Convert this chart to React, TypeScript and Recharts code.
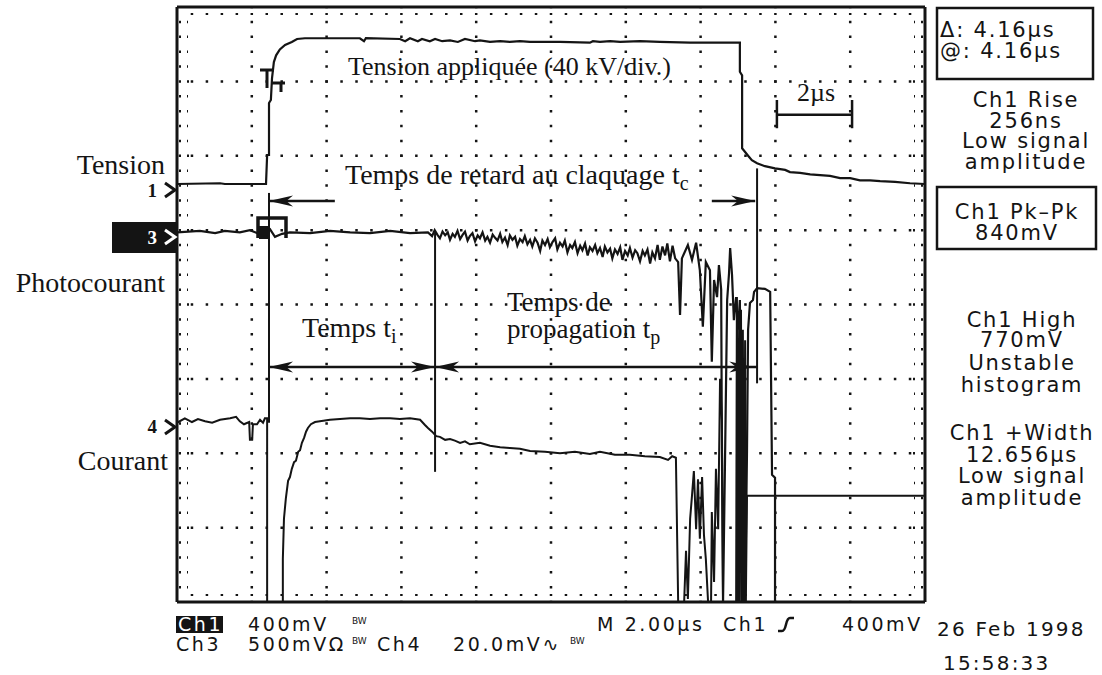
import React from "react";
import { LineChart, Line, XAxis, YAxis, ReferenceLine, ReferenceDot } from "recharts";

const CHART_W = 1102;
const CHART_H = 675;
// plot area: 177..925 horizontally, 7..602 vertically
const MARGIN = { top: 7, right: 177, bottom: 73, left: 177 };

// screen: 10 div x 2 µs, 8 div vertically centred on 0
const timeMajors = [2, 4, 6, 8, 10, 12, 14, 16, 18];
const levelMajors = [-3, -2, -1, 0, 1, 2, 3];

// Ch1 – tension appliquée (div)
const tensionT = [0, 1.15, 1.28, 2.38, 2.41, 2.46, 2.46, 2.51, 2.54, 2.59, 2.65, 2.75, 2.89, 3.07, 3.21, 3.42, 4.89, 5.0, 5.05, 5.96, 6.1, 6.23, 6.44, 6.55, 6.76, 6.9, 7.09, 7.3, 7.51, 7.7, 7.97, 8.1, 8.37, 8.64, 8.9, 9.17, 9.44, 10.24, 11.04, 11.12, 11.31, 11.58, 11.85, 12.38, 12.91, 13.72, 15.05, 15.05, 15.11, 15.11, 15.19, 15.27, 15.37, 15.51, 15.72, 15.99, 16.26, 16.39, 16.66, 16.93, 17.46, 17.73, 18.0, 18.26, 18.53, 18.8, 19.2, 19.6, 20.0];
const tensionV = [1.62, 1.63, 1.62, 1.62, 2.01, 2.01, 2.71, 2.75, 3.04, 3.26, 3.35, 3.43, 3.49, 3.53, 3.57, 3.58, 3.58, 3.54, 3.58, 3.57, 3.54, 3.58, 3.54, 3.57, 3.54, 3.57, 3.54, 3.55, 3.53, 3.57, 3.54, 3.55, 3.53, 3.54, 3.53, 3.54, 3.53, 3.53, 3.52, 3.54, 3.53, 3.54, 3.53, 3.54, 3.53, 3.52, 3.52, 3.13, 3.08, 2.1, 2.05, 2.0, 1.94, 1.9, 1.86, 1.83, 1.81, 1.78, 1.77, 1.75, 1.73, 1.7, 1.7, 1.67, 1.67, 1.66, 1.65, 1.63, 1.62];

// Ch3 – photocourant (div)
const photoT = [
  0, 0.61, 1.02, 1.28, 1.68, 1.95, 2.14, 2.27, 2.49, 2.62, 2.81, 3.02, 3.56, 4.09, 4.63, 5.16, 5.7, 6.23, 6.71,
  6.82, 6.89, 6.96, 7.03, 7.1, 7.17, 7.24, 7.3, 7.37, 7.43,
  7.5, 7.57, 7.64, 7.7, 7.77, 7.83, 7.9, 7.97, 8.04, 8.1,
  8.17, 8.24, 8.3, 8.37, 8.44, 8.5, 8.57, 8.64, 8.7, 8.77,
  8.84, 8.9, 8.97, 9.04, 9.1, 9.17, 9.24, 9.3, 9.37, 9.44,
  9.5, 9.57, 9.64, 9.71, 9.77, 9.84, 9.91, 9.97, 10.04, 10.11,
  10.17, 10.24, 10.31, 10.37, 10.44, 10.51, 10.57, 10.64, 10.71, 10.78,
  10.84, 10.91, 10.98, 11.04, 11.11, 11.18, 11.24, 11.31, 11.38, 11.44,
  11.51, 11.58, 11.64, 11.71, 11.78, 11.85, 11.91, 11.98, 12.05, 12.11,
  12.18, 12.25, 12.31, 12.38, 12.45, 12.51, 12.58, 12.65, 12.71, 12.78,
  12.85, 12.91, 12.98, 13.05, 13.11, 13.18, 13.25, 13.32, 13.4,
  13.45, 13.5, 13.66, 13.77, 13.88, 13.98, 14.06, 14.14, 14.25, 14.3,
  14.36, 14.44, 14.49, 14.55, 14.57, 14.6, 14.65, 14.71, 14.76, 14.79,
  14.84, 14.89, 14.95, 15.0, 15.05, 15.11, 15.19, 15.24, 15.27, 15.32,
  15.4, 15.43, 15.51, 15.72, 15.86, 15.91, 15.99, 15.99,
];
const photoV = [
  0.97, 0.99, 0.96, 0.99, 0.97, 1.0, 0.96, 0.92, 1.01, 0.91, 0.95, 0.97, 0.96, 0.99, 0.97, 0.96, 0.99, 0.96, 0.97,
  0.92, 1.0, 0.94, 0.89, 0.98, 0.93, 0.97, 0.87, 0.95, 0.91,
  0.99, 0.88, 0.94, 0.98, 0.86, 0.92, 0.96, 0.85, 0.93, 0.89,
  0.97, 0.86, 0.91, 0.83, 0.94, 0.9, 0.86, 0.95, 0.84, 0.9,
  0.8, 0.93, 0.87, 0.91, 0.79, 0.88, 0.84, 0.92, 0.81, 0.87,
  0.78, 0.89, 0.83, 0.72, 0.86, 0.8, 0.88, 0.77, 0.84, 0.89,
  0.74, 0.83, 0.78, 0.86, 0.7, 0.8, 0.76, 0.84, 0.69, 0.79,
  0.73, 0.82, 0.66, 0.77, 0.72, 0.8, 0.69, 0.76, 0.64, 0.78,
  0.7, 0.75, 0.62, 0.74, 0.68, 0.77, 0.6, 0.72, 0.66, 0.76,
  0.63, 0.73, 0.69, 0.58, 0.72, 0.66, 0.74, 0.55, 0.7, 0.62,
  0.8, 0.6, 0.78, 0.66, 0.82, 0.58, 0.79, 0.62, 0.57,
  -0.14, 0.62, 0.8, 0.6, 0.83, 0.46, -0.3, 0.57, 0.46, -0.77,
  0.33, 0.1, 0.53, 0.2, -1.96, -4, -2.2, 0.06, 0.42, 0.76,
  0.4, -0.21, 0.1, -0.34, 0.06, -4, -4, -2.0, -0.34, 0.02,
  0.06, 0.17, 0.22, 0.21, 0.17, -2.29, -2.33, -4,
];

// Ch4 – courant (div)
const courantT = [0, 0.21, 0.4, 0.56, 0.75, 0.94, 1.15, 1.42, 1.58, 1.68, 1.79, 1.93, 1.95, 2.01, 2.03, 2.14, 2.22, 2.3, 2.35, 2.41, 2.41, 2.83, 2.83, 2.86, 2.91, 2.97, 3.02, 3.07, 3.13, 3.18, 3.24, 3.29, 3.34, 3.4, 3.45, 3.5, 3.58, 3.69, 3.82, 4.09, 4.36, 4.63, 4.89, 5.16, 5.43, 5.7, 5.96, 6.23, 6.5, 6.63, 6.71, 6.82, 6.93, 7.03, 7.17, 7.3, 7.43, 7.57, 7.7, 7.83, 8.1, 8.37, 8.64, 8.9, 9.17, 9.44, 9.84, 10.24, 10.64, 11.04, 11.31, 11.71, 12.11, 12.51, 12.91, 13.13, 13.24, 13.34, 13.4, 13.56, 13.61, 13.66, 13.72, 13.77, 13.82, 13.88, 13.93, 13.98, 14.04, 14.09, 14.14, 14.2, 14.28, 14.3, 14.36, 14.41, 14.47, 14.52, 14.57, 14.6, 14.79, 14.95, 14.97, 15.0, 15.03, 15.05, 15.08, 15.11, 15.13, 15.16, 15.19, 15.21, 15.24, 20];
const courantV = [-1.59, -1.53, -1.58, -1.54, -1.57, -1.59, -1.55, -1.53, -1.51, -1.57, -1.61, -1.58, -1.82, -1.82, -1.61, -1.61, -1.55, -1.59, -1.53, -1.53, -4, -4, -3.42, -2.88, -2.61, -2.37, -2.32, -2.21, -2.12, -2.1, -1.98, -1.96, -1.86, -1.79, -1.71, -1.66, -1.61, -1.58, -1.57, -1.55, -1.54, -1.53, -1.53, -1.54, -1.53, -1.53, -1.54, -1.53, -1.55, -1.62, -1.66, -1.71, -1.77, -1.78, -1.82, -1.81, -1.83, -1.86, -1.84, -1.88, -1.86, -1.9, -1.92, -1.93, -1.94, -1.97, -1.98, -2.0, -1.98, -2.01, -1.98, -2.02, -2.02, -2.04, -2.05, -2.09, -2.04, -2.06, -4, -4, -3.31, -3.96, -2.88, -2.57, -2.24, -3.02, -2.35, -3.15, -2.32, -3.1, -3.42, -4, -4, -2.79, -3.73, -2.21, -3.02, -1.0, -1.56, -4, -4, -4, 0.1, -4, -0.21, -4, -0.07, -4, -0.34, -4, -0.48, -4, -2.57, -2.57];

// cursors and measurement arrows (µs, div)
const cursorT = [2.46, 6.9, 15.51];
const cursorFrom = [1.5, 0.97, 1.83];
const cursorTo = [-1.59, -2.25, -1.06];
const delayArrowV = 1.39;
const spanArrowV = -0.84;
const scaleBar = { from: 16.04, to: 18.05, v: 2.55 };

const zip = (ts: number[], vs: number[]) => ts.map((t, i) => ({ t, v: vs[i] }));
const tensionData = zip(tensionT, tensionV);
const photoData = zip(photoT, photoV);
const courantData = zip(courantT, courantV);

const INK = "#141414";
const serif = '"Liberation Serif", "Times New Roman", serif';
const sans = '"DejaVu Sans", Verdana, sans-serif';

// edge graticule ticks every 1/5 division
const xMinor = Array.from({ length: 49 }, (_, i) => ({ t: (i + 1) * 0.4, major: (i + 1) % 5 === 0 }));
const yMinor = Array.from({ length: 39 }, (_, i) => ({ v: -4 + (i + 1) * 0.2, major: (i + 1) % 5 === 0 }));
const PX_T = 20 / 748;
const PX_V = 8 / 595;

const arrowHead = (dir: number) => (p: any) => {
  const { cx, cy } = p;
  const L = 24;
  const h = 5.5;
  const pts = `${cx},${cy} ${cx - dir * L},${cy - h} ${cx - dir * L * 0.72},${cy} ${cx - dir * L},${cy + h}`;
  return <polygon points={pts} fill={INK} />;
};

const seg = (a: [number, number], b: [number, number], key: string, extra: any = {}) => (
  <ReferenceLine
    key={key}
    segment={[{ x: a[0], y: a[1] }, { x: b[0], y: b[1] }]}
    stroke={INK}
    strokeWidth={2.5}
    ifOverflow="visible"
    {...extra}
  />
);

const Overlay = () => (
  <svg width={CHART_W} height={CHART_H} style={{ position: "absolute", left: 0, top: 0, pointerEvents: "none" }}>
    <g fontFamily={serif} fontSize={28} fill={INK}>
      <text x={165} y={174} textAnchor="end">Tension</text>
      <text x={165} y={292} textAnchor="end">Photocourant</text>
      <text x={168} y={470} textAnchor="end">Courant</text>
      <text x={348} y={75} fontSize={26}>Tension appliquée (40 kV/div.)</text>
      <text x={345} y={184}>Temps de retard au claquage t<tspan fontSize={20} dy={6}>c</tspan></text>
      <text x={797} y={101} fontSize={26}>2µs</text>
      <text x={302} y={337}>Temps t<tspan fontSize={20} dy={6}>i</tspan></text>
      <text x={507} y={311} fontSize={27}>Temps de</text>
      <text x={507} y={338} fontSize={27}>propagation t<tspan fontSize={20} dy={6}>p</tspan></text>
    </g>

    {/* channel ground markers */}
    <g fontFamily={serif} fontWeight="bold" fontSize={19}>
      <text x={157} y={197} textAnchor="end" fill={INK}>1</text>
      <path d="M165 183 L175 190 L165 197" stroke={INK} strokeWidth={3} fill="none" />
      <rect x={112} y={222} width={64} height={31} fill={INK} />
      <text x={157} y={244} textAnchor="end" fill="#fff">3</text>
      <path d="M165 230 L175 237 L165 244" stroke="#fff" strokeWidth={3} fill="none" />
      <text x={157} y={433} textAnchor="end" fill={INK}>4</text>
      <path d="M165 420 L175 427 L165 434" stroke={INK} strokeWidth={3} fill="none" />
    </g>

    {/* rise-time and trigger window markers */}
    <path d="M260 70 H274 M267 70 V88 M271 83 H285 M281 83 V92" stroke={INK} strokeWidth={3} fill="none" />
    <path d="M258 238 V218 H286 V238" stroke={INK} strokeWidth={3.5} fill="none" />
    <rect x={259} y={226} width={9} height={13} fill={INK} />

    {/* measurement readouts */}
    <g fontFamily={sans} fontSize={21} fill={INK} letterSpacing={1.8}>
      <rect x={937} y={8} width={156} height={71} fill="none" stroke={INK} strokeWidth={2.5} />
      <text x={940} y={37}>Δ: 4.16µs</text>
      <text x={940} y={58}>@: 4.16µs</text>
      <g textAnchor="middle">
        <text x={1026} y={107}>Ch1 Rise</text>
        <text x={1026} y={128}>256ns</text>
        <text x={1026} y={148}>Low signal</text>
        <text x={1026} y={169}>amplitude</text>
        <text x={1017} y={219}>Ch1 Pk–Pk</text>
        <text x={1017} y={240}>840mV</text>
        <text x={1022} y={327}>Ch1 High</text>
        <text x={1022} y={347}>770mV</text>
        <text x={1022} y={370}>Unstable</text>
        <text x={1022} y={392}>histogram</text>
        <text x={1022} y={440}>Ch1 +Width</text>
        <text x={1022} y={462}>12.656µs</text>
        <text x={1022} y={483}>Low signal</text>
        <text x={1022} y={505}>amplitude</text>
      </g>
      <rect x={937} y={187} width={159} height={62} fill="none" stroke={INK} strokeWidth={2.5} />
    </g>

    {/* channel settings strip */}
    <g fontFamily={sans} fontSize={19} fill={INK} letterSpacing={2.6}>
      <rect x={176} y={616} width={47} height={17} fill={INK} />
      <text x={178} y={631} fill="#fff">Ch1</text>
      <text x={248} y={631}>400mV</text>
      <text x={352} y={624} fontSize={9} letterSpacing={0}>BW</text>
      <text x={176} y={651}>Ch3</text>
      <text x={248} y={651}>500mVΩ</text>
      <text x={352} y={644} fontSize={9} letterSpacing={0}>BW</text>
      <text x={377} y={651}>Ch4</text>
      <text x={453} y={651}>20.0mV∿</text>
      <text x={570} y={644} fontSize={9} letterSpacing={0}>BW</text>
      <text x={597} y={631}>M 2.00µs</text>
      <text x={723} y={631}>Ch1</text>
      <path d="M778 631 H782 C787 631 785 618 790 618 H794" stroke={INK} strokeWidth={2.5} fill="none" />
      <text x={842} y={631}>400mV</text>
      <text x={937} y={636} fontSize={20} letterSpacing={2.2}>26 Feb 1998</text>
      <text x={943} y={670} fontSize={20} letterSpacing={2.2}>15:58:33</text>
    </g>
  </svg>
);

export default function App() {
  return (
    <div style={{ position: "absolute", left: 0, top: 0, width: CHART_W, height: CHART_H, background: "#fff" }}>
      <LineChart width={CHART_W} height={CHART_H} margin={MARGIN}>
        <XAxis dataKey="t" type="number" domain={[0, 20]} hide allowDataOverflow />
        <YAxis type="number" domain={[-4, 4]} hide allowDataOverflow />

        {/* dotted graticule */}
        {timeMajors.map((t) => (
          <ReferenceLine key={`gx${t}`} x={t} stroke={INK} strokeWidth={2.5} strokeDasharray="2.5 12.375" strokeDashoffset={1.25} />
        ))}
        {levelMajors.map((v) => (
          <ReferenceLine key={`gy${v}`} y={v} stroke={INK} strokeWidth={2.5} strokeDasharray="2.5 12.46" strokeDashoffset={1.25} />
        ))}
        {xMinor.map(({ t, major }) => {
          const len = (major ? 15 : 9) * PX_V;
          return [
            seg([t, -4], [t, -4 + len], `bt${t}`, { strokeDasharray: "0 6 2 4" }),
            seg([t, 4], [t, 4 - len], `tt${t}`, { strokeDasharray: "0 6 2 4" }),
          ];
        })}
        {yMinor.map(({ v, major }) => {
          const len = (major ? 17 : 11) * PX_T;
          return [
            seg([0, v], [len, v], `lt${v}`, { strokeDasharray: "0 2 2 4" }),
            seg([20, v], [20 - len, v], `rt${v}`, { strokeDasharray: "0 2 2 4" }),
          ];
        })}
        {seg([0, -4], [20, -4], "fb", { strokeWidth: 3 })}
        {seg([0, 4], [20, 4], "ft", { strokeWidth: 3 })}
        {seg([0, -4], [0, 4], "fl", { strokeWidth: 3 })}
        {seg([20, -4], [20, 4], "fr", { strokeWidth: 3 })}

        <Line data={tensionData} dataKey="v" type="linear" dot={false} stroke={INK} strokeWidth={2.2} isAnimationActive={false} />
        <Line data={photoData} dataKey="v" type="linear" dot={false} stroke={INK} strokeWidth={2.2} isAnimationActive={false} />
        <Line data={courantData} dataKey="v" type="linear" dot={false} stroke={INK} strokeWidth={2} isAnimationActive={false} />

        {/* cursors */}
        {cursorT.map((t, i) => seg([t, cursorFrom[i]], [t, cursorTo[i]], `cur${i}`, { strokeWidth: 2 }))}

        {/* t_c arrows */}
        {seg([cursorT[0], delayArrowV], [4.22, delayArrowV], "tcL")}
        {seg([14.3, delayArrowV], [cursorT[2] - 0.05, delayArrowV], "tcR")}
        <ReferenceDot x={cursorT[0]} y={delayArrowV} shape={arrowHead(-1)} ifOverflow="visible" />
        <ReferenceDot x={cursorT[2] - 0.05} y={delayArrowV} shape={arrowHead(1)} ifOverflow="visible" />

        {/* t_i and t_p arrows */}
        {seg([cursorT[0], spanArrowV], [cursorT[2], spanArrowV], "tip")}
        <ReferenceDot x={cursorT[0]} y={spanArrowV} shape={arrowHead(-1)} ifOverflow="visible" />
        <ReferenceDot x={cursorT[1]} y={spanArrowV} shape={arrowHead(1)} ifOverflow="visible" />
        <ReferenceDot x={cursorT[1]} y={spanArrowV} shape={arrowHead(-1)} ifOverflow="visible" />
        <ReferenceDot x={cursorT[2] - 0.1} y={spanArrowV} shape={arrowHead(1)} ifOverflow="visible" />

        {/* 2 µs scale bar */}
        {seg([scaleBar.from, scaleBar.v], [scaleBar.to, scaleBar.v], "sb")}
        {seg([scaleBar.from, scaleBar.v + 0.2], [scaleBar.from, scaleBar.v - 0.18], "sbl")}
        {seg([scaleBar.to, scaleBar.v + 0.2], [scaleBar.to, scaleBar.v - 0.18], "sbr")}
      </LineChart>
      <Overlay />
    </div>
  );
}
